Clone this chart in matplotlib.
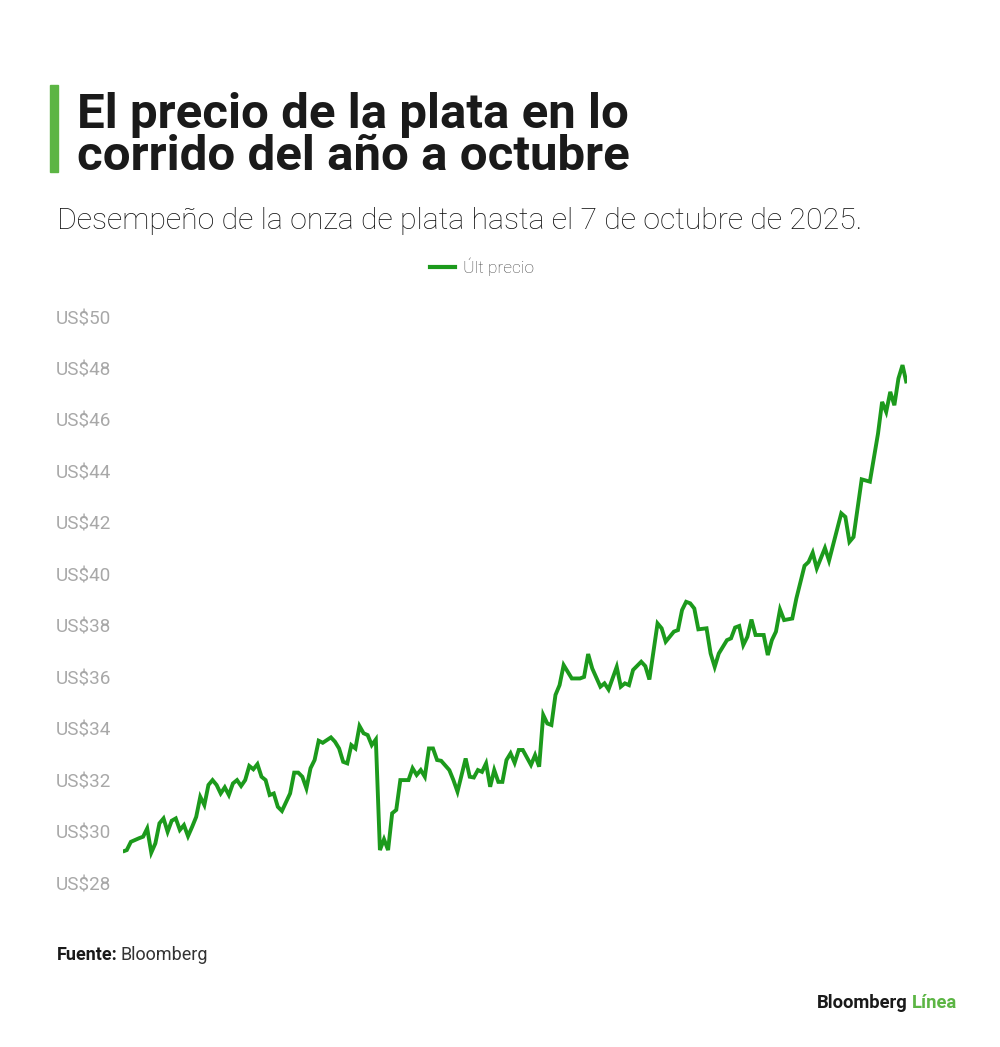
import matplotlib
matplotlib.use("Agg")
import matplotlib.pyplot as plt
from matplotlib.patches import Rectangle

# ---- data ----
days = [0, 1, 2, 4, 5, 6, 7, 8, 9, 10, 11, 12, 13, 14, 15, 16, 17, 18, 19, 20,
        21, 22, 23, 24, 25, 26, 27, 28, 29, 30, 31, 32, 33, 34, 35, 36, 37, 38, 39, 41,
        42, 43, 44, 45, 46, 47, 48, 49, 51, 52, 53, 54, 55, 56, 57, 58, 59, 60, 61, 62,
        63, 64, 65, 66, 67, 68, 70, 71, 72, 73, 74, 75, 76, 77, 78, 80, 81, 82, 84, 85,
        86, 87, 88, 89, 90, 91, 92, 93, 94, 95, 96, 97, 98, 100, 101, 102, 103, 104, 105, 106,
        107, 108, 110, 112, 113, 114, 115, 117, 118, 119, 121, 122, 123, 124, 125, 127, 128, 129, 131, 132,
        133, 135, 136, 137, 138, 139, 140, 141, 143, 144, 145, 146, 148, 149, 150, 151, 152, 153, 154, 155,
        157, 158, 159, 160, 161, 162, 164, 165, 167, 168, 169, 170, 172, 173, 174, 176, 177, 178, 179, 181,
        183, 185, 186, 187, 188, 189, 190, 191, 192]
prices = [29.22, 29.28, 29.60, 29.74, 29.80, 30.12, 29.18, 29.54, 30.32, 30.51, 29.99, 30.42, 30.51, 30.06, 30.25, 29.82, 30.18, 30.57, 31.35, 31.03,
          31.81, 32.00, 31.81, 31.48, 31.72, 31.42, 31.87, 32.00, 31.77, 32.00, 32.55, 32.42, 32.62, 32.13, 32.00, 31.42, 31.48, 30.96, 30.80, 31.48,
          32.29, 32.29, 32.13, 31.68, 32.46, 32.78, 33.53, 33.45, 33.66, 33.49, 33.23, 32.71, 32.65, 33.36, 33.23, 34.10, 33.82, 33.75, 33.36, 33.58,
          29.28, 29.70, 29.28, 30.71, 30.84, 32.00, 32.00, 32.46, 32.20, 32.39, 32.13, 33.23, 33.23, 32.78, 32.75, 32.39, 32.00, 31.55, 32.84, 32.13,
          32.10, 32.39, 32.32, 32.65, 31.74, 32.39, 31.93, 31.93, 32.78, 33.04, 32.67, 33.17, 33.17, 32.59, 32.97, 32.52, 34.53, 34.20, 34.14, 35.31,
          35.69, 36.47, 35.95, 35.95, 36.01, 36.90, 36.34, 35.63, 35.76, 35.52, 36.40, 35.63, 35.76, 35.69, 36.28, 36.60, 36.43, 35.91, 38.09, 37.90,
          37.38, 37.77, 37.83, 38.61, 38.93, 38.87, 38.67, 37.86, 37.90, 36.92, 36.40, 36.92, 37.44, 37.51, 37.93, 37.99, 37.25, 37.57, 38.24, 37.64,
          37.64, 36.86, 37.44, 37.77, 38.63, 38.22, 38.28, 39.06, 40.33, 40.48, 40.84, 40.23, 41.02, 40.53, 41.14, 42.37, 42.23, 41.26, 41.45, 43.69,
          43.60, 45.47, 46.70, 46.31, 47.09, 46.57, 47.61, 48.13, 47.42]
y_ticks = [28, 30, 32, 34, 36, 38, 40, 42, 44, 46, 48, 50]
y_tick_labels = [f"US${v}" for v in y_ticks]
series_name = "Últ precio"

title_lines = ["El precio de la plata en lo", "corrido del año a octubre"]
subtitle = "Desempeño de la onza de plata hasta el 7 de octubre de 2025."

GREEN_LINE = "#1c9a1c"
GREEN_BAR = "#5cb544"
TICK_GRAY = "#a8a8a8"

plt.rcParams['font.family'] = ['Roboto', 'DejaVu Sans']

W, H = 1000, 1047
fig = plt.figure(figsize=(W / 100, H / 100), dpi=100)
fig.patch.set_facecolor("white")

ax = fig.add_axes([122.7 / W, 1 - 883 / H, (906.6 - 122.7) / W, 566 / H])
ax.plot(days, prices, color=GREEN_LINE, lw=2.8, solid_joinstyle="miter", solid_capstyle="butt")
ax.set_xlim(0, 192)
ax.set_ylim(28, 50)
ax.set_yticks(y_ticks)
ax.set_yticklabels(y_tick_labels, ha="left", color=TICK_GRAY, fontsize=13.6)
ax.tick_params(axis="y", length=0, pad=(122.7 - 56) * 0.72)
ax.set_xticks([])
for s in ax.spines.values():
    s.set_visible(False)
ax.set_facecolor("none")

# title bar
fig.patches.append(Rectangle((50 / W, 1 - 172 / H), 8 / W, 87 / H,
                             transform=fig.transFigure, color=GREEN_BAR, zorder=5))
fig.text(77 / W, 1 - 128 / H, title_lines[0], fontsize=35.5, fontweight="bold",
         color="#1a1a1a", ha="left", va="baseline")
fig.text(77 / W, 1 - 170 / H, title_lines[1], fontsize=35.5, fontweight="bold",
         color="#1a1a1a", ha="left", va="baseline")
fig.text(57 / W, 1 - 229 / H, subtitle, fontsize=21.8, fontweight="light",
         color="#111111", ha="left", va="baseline")

# legend
fig.lines.append(plt.Line2D([430 / W, 455 / W], [1 - 267 / H, 1 - 267 / H],
                            transform=fig.transFigure, color=GREEN_LINE, lw=3.0))
fig.text(463 / W, 1 - 267 / H, series_name, fontsize=12.5, fontweight="light",
         color="#444444", ha="left", va="center")

# source
t = fig.text(57 / W, 1 - 960 / H, "Fuente:", fontsize=13, fontweight="bold",
             color="#1a1a1a", ha="left", va="baseline")
fig.canvas.draw()
bb = t.get_window_extent()
fig.text((bb.x1 + 3) / W, 1 - 960 / H, "Bloomberg", fontsize=13, color="#333333",
         ha="left", va="baseline")

# logo
t2 = fig.text(957 / W, 1 - 1008 / H, "Línea", fontsize=13.2, fontweight="bold",
              color=GREEN_BAR, ha="right", va="baseline")
fig.canvas.draw()
bb2 = t2.get_window_extent()
fig.text((bb2.x0 - 4) / W, 1 - 1008 / H, "Bloomberg", fontsize=13.2, fontweight="bold",
         color="#1a1a1a", ha="right", va="baseline")

fig.savefig("out.png", dpi=100, facecolor="white")
